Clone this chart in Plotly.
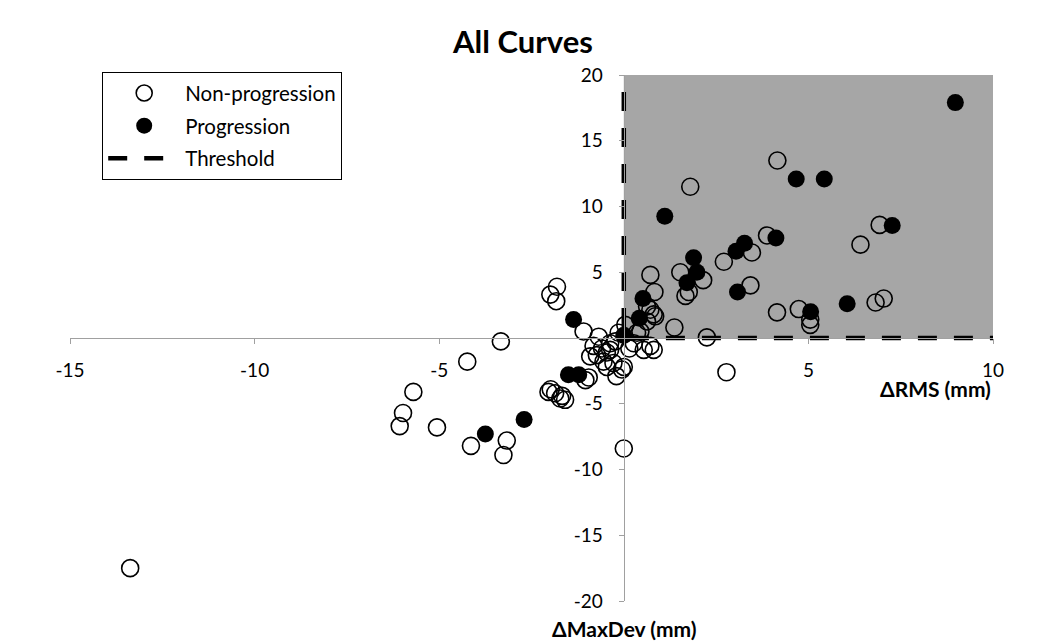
import plotly.graph_objects as go

# Non-progression (open circles): dRMS (x), dMaxDev (y)
nonprog_x = [4.16, 1.80, 6.93, 6.41, 7.04, 6.82, 5.05, 5.05, 4.74, 4.15, 3.88, 3.47, 2.71, 3.43,
             1.53, 2.15, 1.76, 1.67, 0.72, 0.83, 1.37, 2.25, 0.72, 0.85, 0.63, 0.45, 0.04, 0.63, 0.81,
             2.78, 0.00, 0.36, 0.72, 0.54, 0.81, 0.27,
             -1.81, -1.99, -1.83, -1.09, -0.68, -0.14,
             -3.33, -4.24, -5.70, -5.98, -6.07, -5.06, -4.14, -3.17, -3.26, -13.37,
             -2.04, -1.86, -1.67, -1.59, -1.72, -1.98, -1.04, -0.95,
             -0.82, -0.59, -0.37, -0.73, -0.46, -0.28, 0.00, -0.05, -0.55, -0.91, -0.46, -0.23,
             -0.37, 0.15, -0.20]
nonprog_y = [13.5, 11.5, 8.6, 7.1, 3.0, 2.7, 1.0, 1.4, 2.2, 1.95, 7.8, 6.5, 5.8, 4.0,
             5.0, 4.4, 3.5, 3.2, 4.8, 3.5, 0.8, 0.05, 2.15, 1.65, 1.26, 0.5, 1.0, 2.4, 1.8,
             -2.6, -8.4, 0.4, -0.6, -0.9, -0.9, -0.4,
             3.9, 3.3, 2.8, 0.5, 0.1, 0.4,
             -0.26, -1.8, -4.1, -5.7, -6.7, -6.8, -8.2, -7.8, -8.9, -17.5,
             -4.1, -4.2, -4.4, -4.7, -4.6, -3.9, -3.2, -3.0,
             -0.6, -0.8, -0.4, -1.3, -1.1, -1.9, -2.2, -2.4, -1.8, -1.4, -2.2, -0.26,
             -0.9, -0.8, -2.9]

# Progression (filled circles)
prog_x = [8.98, 4.67, 5.43, 1.11, 7.27, 4.12, 3.27, 3.04, 1.89, 1.98, 1.71, 3.08, 5.06, 6.05,
          0.52, 0.42, 0.00, -1.36, -1.50, -1.22, -2.70, -3.75]
prog_y = [17.9, 12.1, 12.1, 9.25, 8.56, 7.6, 7.2, 6.6, 6.1, 5.0, 4.2, 3.5, 2.0, 2.6,
          3.0, 1.5, 0.2, 1.4, -2.8, -2.8, -6.2, -7.3]

# Threshold line and shaded progression region
threshold_x = [0, 0, 10]
threshold_y = [18.7, 0, 0]
region_x = [0, 10]
region_y = [0, 20]

x_ticks = [-15, -10, -5, 5, 10]
y_ticks = [-20, -15, -10, -5, 5, 10, 15, 20]

FONT = "Lato"

fig = go.Figure()
fig.add_shape(type="rect", x0=region_x[0], x1=region_x[1], y0=region_y[0], y1=region_y[1],
              xref="x", yref="y", fillcolor="#a6a6a6", line_width=0, layer="below")

fig.add_trace(go.Scatter(
    x=nonprog_x, y=nonprog_y, mode="markers", name="Non-progression",
    legendgroup="a",
    marker=dict(symbol="circle-open", size=17, color="black", line=dict(width=1.6, color="black"))))
fig.add_trace(go.Scatter(
    x=prog_x, y=prog_y, mode="markers", name="Progression",
    legendgroup="b",
    marker=dict(symbol="circle", size=17, color="black", line=dict(width=0))))
fig.add_trace(go.Scatter(
    x=threshold_x, y=threshold_y, mode="lines", name="Threshold",
    legendgroup="c",
    line=dict(color="black", width=4.5, dash="19px,17px")))

axis_common = dict(
    showgrid=False, zeroline=False, showline=True, linecolor="#a0a0a0", linewidth=1.3,
    ticks="outside", ticklen=5, tickcolor="#a0a0a0", tickwidth=1.3,
    tickfont=dict(family=FONT, size=19, color="black"), anchor="free",
)

fig.update_layout(
    width=1046, height=642,
    margin=dict(l=70, r=53, t=75, b=41, autoexpand=False),
    plot_bgcolor="white", paper_bgcolor="white",
    xaxis=dict(range=[-15, 10], tickvals=x_ticks, ticktext=[str(v) for v in x_ticks],
               position=0.5, ticklabelstandoff=10, **axis_common),
    yaxis=dict(range=[-20, 20], tickvals=y_ticks, ticktext=[str(v) for v in y_ticks],
               position=0.6, ticklabelstandoff=12, **axis_common),
    title=dict(text="<b>All Curves</b>", x=0.5, xref="container", xanchor="center",
               y=1 - 42 / 642, yref="container", yanchor="middle",
               font=dict(family=FONT, size=31, color="black")),
    legend=dict(x=(102 - 70) / 923, y=(601 - 72) / 526, xanchor="left", yanchor="top",
                bordercolor="black", borderwidth=1.2, bgcolor="white",
                font=dict(family=FONT, size=20.5, color="black"),
                tracegroupgap=3, itemwidth=72),
    showlegend=True,
)

fig.add_annotation(text="<b>ΔRMS (mm)</b>", x=935, y=388, xref="paper", yref="paper",
                   xanchor="center", yanchor="middle",
                   showarrow=False, font=dict(family=FONT, size=21, color="black"))
fig.add_annotation(text="<b>ΔMaxDev (mm)</b>", x=624, y=628, xref="paper", yref="paper",
                   xanchor="center", yanchor="middle",
                   showarrow=False, font=dict(family=FONT, size=21, color="black"))

# convert annotation pixel positions to paper coordinates
pw = 1046 - 70 - 53
ph = 642 - 75 - 41
for ann in fig.layout.annotations:
    ann.x = (ann.x - 70) / pw
    ann.y = (642 - 41 - ann.y) / ph

fig.write_html("out.html")
